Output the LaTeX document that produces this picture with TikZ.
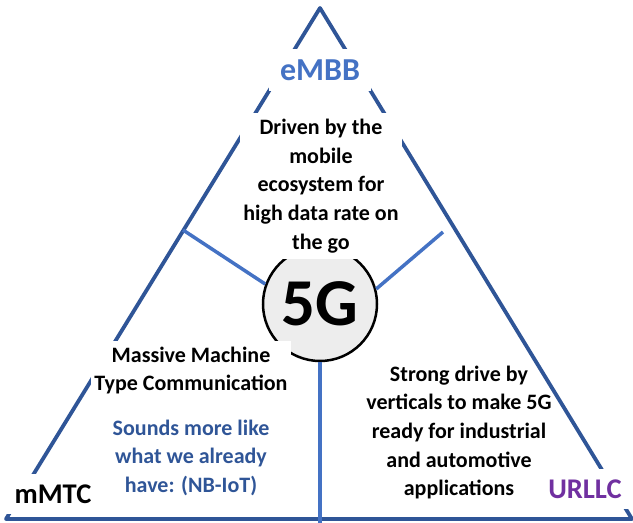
\documentclass[tikz,border=0pt]{standalone}
\usepackage{fontspec}
\setmainfont{Carlito}
\usetikzlibrary{positioning}
\definecolor{edgeblue}{HTML}{2F5597}
\definecolor{linkblue}{HTML}{4472C4}
\definecolor{urllcpurple}{HTML}{7030A0}
\definecolor{hubgray}{HTML}{EDEDED}
\tikzset{
  edge/.style = {draw=edgeblue, line width=3.8pt, line join=round},
  link/.style = {draw=linkblue, line width=3.5pt},
  txt/.style  = {align=center, font=\fontsize{22}{28.6}\selectfont\bfseries, inner xsep=3pt, inner ysep=6pt},
  tag/.style  = {fill=white, font=\fontsize{28.5}{30}\selectfont\bfseries, inner sep=11pt},
}

\begin{document}
\begin{tikzpicture}[x=1pt,y=-1pt]
    \useasboundingbox (0,0) rectangle (633,523);
    \coordinate (apex) at (320,8);
    \coordinate (bl) at (6,519);
    \coordinate (br) at (632,519);
    \draw[edge] (apex) -- (br) -- (bl) -- cycle;
    \node[circle, draw, line width=2.5pt, fill=hubgray, minimum size=114pt, inner sep=0pt,
          font=\fontsize{67}{67}\selectfont\bfseries] (hub) at (320,304) {5G};
    \coordinate (lefthit) at (183,230);
    \coordinate (rightend) at (443,232);
    \coordinate (basehit) at (320,523);
    \draw[link] (lefthit) -- (hub.160);
    \draw[link] (hub.15) -- (rightend);
    \draw[link] (hub.south) -- (basehit);
    \node[txt, fill=white] (embbtxt) at (321,186) {Driven by the\\mobile\\ecosystem for\\high data rate on\\the go};
    \node[txt, fill=white] (mmtctxt) at (191,370.5) {Massive Machine\\Type Communication};
    \node[txt, text=edgeblue, below=13pt of mmtctxt] (mmtcnote) {Sounds more like\\what we already\\have: (NB-IoT)};
    \node[txt] (urllctxt) at (459,432.5) {Strong drive by\\verticals to make 5G\\ready for industrial\\and automotive\\applications};
    \node[tag, text=linkblue, font=\fontsize{32}{34}\selectfont\bfseries] (embb) at (320,70) {eMBB};
    \node[tag] (mmtc) at (53,494) {mMTC};
    \node[tag, text=urllcpurple] (urllc) at (585,489) {URLLC};
\end{tikzpicture}
\end{document}
